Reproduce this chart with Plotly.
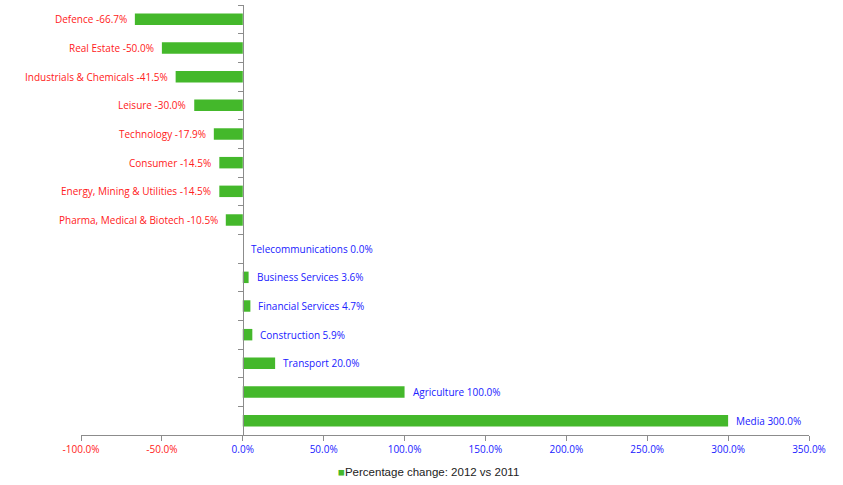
import plotly.graph_objects as go

# Sector percentage change, 2012 vs 2011
sectors = [
    "Defence", "Real Estate", "Industrials & Chemicals", "Leisure", "Technology",
    "Consumer", "Energy, Mining & Utilities", "Pharma, Medical & Biotech",
    "Telecommunications", "Business Services", "Financial Services",
    "Construction", "Transport", "Agriculture", "Media",
]
pct_change = [-66.7, -50.0, -41.5, -30.0, -17.9, -14.5, -14.5, -10.5,
              0.0, 3.6, 4.7, 5.9, 20.0, 100.0, 300.0]

x_ticks = [-100, -50, 0, 50, 100, 150, 200, 250, 300, 350]
series_name = "Percentage change: 2012 vs 2011"

RED = "#FF2020"
BLUE = "#2020FF"
GREEN = "#44B82B"
AXIS = "#8C8C8C"
LABEL_FONT = "Open Sans"

fig = go.Figure()
fig.add_trace(go.Bar(
    x=pct_change,
    y=sectors,
    orientation="h",
    marker=dict(color=GREEN, line=dict(width=0)),
    width=0.4,
    name=series_name,
    showlegend=False,
))

# Value labels: left of negative bars in red, right of others in blue
for s, v in zip(sectors, pct_change):
    neg = v < 0
    fig.add_annotation(
        x=v, y=s, xref="x", yref="y",
        text=f"{s} {v:.1f}%",
        showarrow=False,
        xanchor="right" if neg else "left",
        xshift=-6 if neg else 6,
        font=dict(family=LABEL_FONT, size=10, color=RED if neg else BLUE),
    )

# Compact legend entry below the axis
fig.add_annotation(
    x=0.477, y=-0.085, xref="paper", yref="paper",
    xanchor="center", yanchor="middle", showarrow=False,
    text=f'<span style="color:{GREEN}">■</span>{series_name}',
    font=dict(family="Liberation Sans", size=11.5, color="#222222"),
)

tick_text = [
    f'<span style="color:{RED if t < 0 else BLUE}">{t:.1f}%</span>' for t in x_ticks
]

plot_left, plot_right = 81, 34
zero_pos = (0 - x_ticks[0]) / (x_ticks[-1] - x_ticks[0])

fig.update_layout(
    width=843, height=485,
    margin=dict(l=plot_left, r=plot_right, t=5, b=50),
    paper_bgcolor="white", plot_bgcolor="white",
    showlegend=False,
    xaxis=dict(
        range=[x_ticks[0], x_ticks[-1]],
        tickvals=x_ticks, ticktext=tick_text,
        showgrid=False, zeroline=False,
        showline=True, linecolor=AXIS, linewidth=1,
        ticks="outside", ticklen=5, tickcolor=AXIS,
        tickfont=dict(family=LABEL_FONT, size=10),
    ),
    yaxis=dict(
        type="category",
        categoryorder="array", categoryarray=sectors,
        autorange="reversed",
        anchor="free", position=zero_pos,
        showticklabels=False, showgrid=False, zeroline=False,
        showline=True, linecolor=AXIS, linewidth=1,
        ticks="outside", ticklen=5, tickcolor=AXIS,
        tickson="boundaries",
    ),
)

fig.write_html("out.html")
